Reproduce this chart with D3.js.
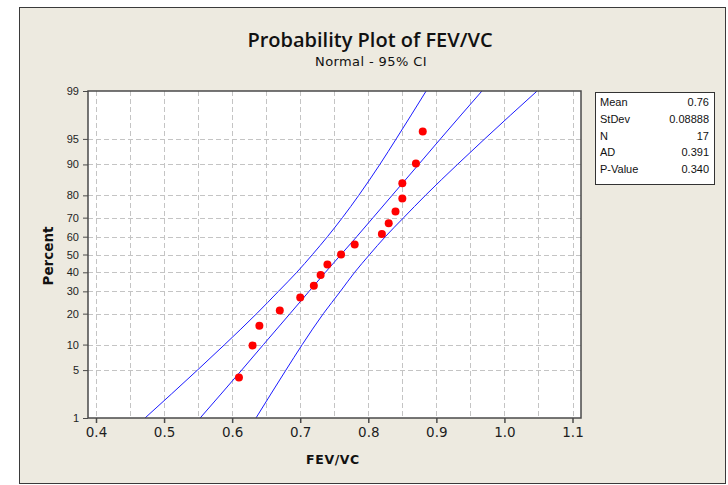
<!DOCTYPE html>
<html>
<head>
<meta charset="utf-8">
<script src="https://cdn.jsdelivr.net/npm/d3@7"></script>
<style>
  html, body { margin: 0; padding: 0; background: #ffffff; }
  svg { display: block; }
</style>
</head>
<body>
<svg id="chart" width="728" height="485"></svg>
<script>
// ---------------- DATA ----------------
const fevvc = [0.61, 0.63, 0.64, 0.67, 0.70, 0.72, 0.73, 0.74, 0.76, 0.78, 0.82, 0.83, 0.84, 0.85, 0.85, 0.87, 0.88];
const pointPercent = [4.0, 9.8, 15.5, 21.3, 27.0, 32.8, 38.5, 44.3, 50.0, 55.7, 61.5, 67.2, 73.0, 78.7, 84.5, 90.2, 96.0];

// fitted line and 95% CI bands, read at the percent levels
const bandPercent = [1, 5, 10, 20, 30, 40, 50, 60, 70, 80, 90, 95, 99];
const fitLine   = [0.553, 0.614, 0.646, 0.685, 0.713, 0.737, 0.760, 0.783, 0.807, 0.835, 0.874, 0.906, 0.967];
const lowerBand = [0.472, 0.549, 0.589, 0.636, 0.668, 0.695, 0.718, 0.740, 0.762, 0.786, 0.817, 0.841, 0.885];
const upperBand = [0.635, 0.679, 0.703, 0.734, 0.759, 0.780, 0.802, 0.825, 0.852, 0.884, 0.931, 0.971, 1.048];

const xTicks = [0.4, 0.5, 0.6, 0.7, 0.8, 0.9, 1.0, 1.1];
const xGrid  = [0.40, 0.45, 0.50, 0.55, 0.60, 0.65, 0.70, 0.75, 0.80, 0.85, 0.90, 0.95, 1.00, 1.05, 1.10];
const yTicks = [1, 5, 10, 20, 30, 40, 50, 60, 70, 80, 90, 95, 99];

const statLabels = ["Mean", "StDev", "N", "AD", "P-Value"];
const statValues = ["0.76", "0.08888", "17", "0.391", "0.340"];

// ---------------- HELPERS ----------------
// inverse standard normal CDF (Acklam)
function probit(p) {
  const a = [-3.969683028665376e+01, 2.209460984245205e+02, -2.759285104469687e+02, 1.383577518672690e+02, -3.066479806614716e+01, 2.506628277459239e+00];
  const b = [-5.447609879822406e+01, 1.615858368580409e+02, -1.556989798598866e+02, 6.680131188771972e+01, -1.328068155288572e+01];
  const c = [-7.784894002430293e-03, -3.223964580411365e-01, -2.400758277161838e+00, -2.549732539343734e+00, 4.374664141464968e+00, 2.938163982698783e+00];
  const d = [7.784695709041462e-03, 3.224671290700398e-01, 2.445134137142996e+00, 3.754408661907416e+00];
  const pl = 0.02425, ph = 1 - pl;
  let q, r;
  if (p < pl) {
    q = Math.sqrt(-2 * Math.log(p));
    return (((((c[0]*q+c[1])*q+c[2])*q+c[3])*q+c[4])*q+c[5]) / ((((d[0]*q+d[1])*q+d[2])*q+d[3])*q+1);
  } else if (p <= ph) {
    q = p - 0.5; r = q * q;
    return (((((a[0]*r+a[1])*r+a[2])*r+a[3])*r+a[4])*r+a[5])*q / (((((b[0]*r+b[1])*r+b[2])*r+b[3])*r+b[4])*r+1);
  } else {
    q = Math.sqrt(-2 * Math.log(1 - p));
    return -(((((c[0]*q+c[1])*q+c[2])*q+c[3])*q+c[4])*q+c[5]) / ((((d[0]*q+d[1])*q+d[2])*q+d[3])*q+1);
  }
}
const z = pct => probit(pct / 100);

// ---------------- LAYOUT ----------------
const svg = d3.select("#chart");
const plot = { left: 88, right: 581, top: 91, bottom: 418 };

// outer frame
svg.append("rect")
  .attr("x", 19.5).attr("y", 7.5).attr("width", 706).attr("height", 476)
  .attr("fill", "#EDEAE0").attr("stroke", "#3a3a3a").attr("stroke-width", 1);

const x = d3.scaleLinear().domain([0.4, 1.1]).range([96, 572.5]);
const y = d3.scaleLinear().domain([z(1), z(99)]).range([plot.bottom, plot.top]);

// plot background
svg.append("rect")
  .attr("x", plot.left).attr("y", plot.top)
  .attr("width", plot.right - plot.left).attr("height", plot.bottom - plot.top)
  .attr("fill", "#ffffff");

svg.append("clipPath").attr("id", "clip")
  .append("rect")
  .attr("x", plot.left).attr("y", plot.top)
  .attr("width", plot.right - plot.left).attr("height", plot.bottom - plot.top);

// gridlines
const grid = svg.append("g").attr("stroke", "#c4c4c4").attr("stroke-width", 1).attr("stroke-dasharray", "5,3");
grid.selectAll("line.v").data(xGrid).join("line")
  .attr("class", "v")
  .attr("x1", d => Math.round(x(d)) + 0.5).attr("x2", d => Math.round(x(d)) + 0.5)
  .attr("y1", plot.top).attr("y2", plot.bottom);
grid.selectAll("line.h").data(yTicks.filter(t => t > 1 && t < 99)).join("line")
  .attr("class", "h")
  .attr("y1", d => Math.round(y(z(d))) + 0.5).attr("y2", d => Math.round(y(z(d))) + 0.5)
  .attr("x1", plot.left).attr("x2", plot.right);

// fitted line and CI bands
const line = d3.line()
  .x(d => x(d[0]))
  .y(d => y(z(d[1])))
  .curve(d3.curveMonotoneY);

const lines = svg.append("g").attr("clip-path", "url(#clip)");
[lowerBand, fitLine, upperBand].forEach(arr => {
  lines.append("path")
    .datum(arr.map((v, i) => [v, bandPercent[i]]))
    .attr("d", line)
    .attr("fill", "none")
    .attr("stroke", "#1a1aff")
    .attr("stroke-width", 1);
});

// points
svg.append("g").selectAll("circle").data(fevvc).join("circle")
  .attr("cx", d => x(d))
  .attr("cy", (d, i) => y(z(pointPercent[i])))
  .attr("r", 4)
  .attr("fill", "#ff0000");

// plot frame
svg.append("rect")
  .attr("x", plot.left).attr("y", plot.top)
  .attr("width", plot.right - plot.left).attr("height", plot.bottom - plot.top)
  .attr("fill", "none").attr("stroke", "#4a4a4a").attr("stroke-width", 1.5);

// x axis
const xAxis = svg.append("g")
  .attr("transform", `translate(0,${plot.bottom})`)
  .call(d3.axisBottom(x).tickValues(xTicks).tickFormat(d3.format(".1f")).tickSize(5).tickSizeOuter(0));
xAxis.select(".domain").remove();
xAxis.selectAll(".tick line").attr("stroke", "#4a4a4a").attr("stroke-width", 1.5);
xAxis.selectAll(".tick text")
  .attr("y", 9)
  .attr("fill", "#1e1e1e")
  .style("font-family", "'DejaVu Sans', sans-serif")
  .style("font-size", "13.5px");

// y axis
const yAxis = svg.append("g")
  .attr("transform", `translate(${plot.left},0)`)
  .call(d3.axisLeft(y).tickValues(yTicks.map(z)).tickFormat((d, i) => yTicks[i]).tickSize(5).tickSizeOuter(0));
yAxis.select(".domain").remove();
yAxis.selectAll(".tick line").attr("stroke", "#4a4a4a").attr("stroke-width", 1);
yAxis.selectAll(".tick text")
  .attr("x", -9)
  .attr("fill", "#1e1e1e")
  .style("font-family", "'Liberation Sans', Arial, sans-serif")
  .style("font-size", "11px");

// titles
svg.append("text")
  .attr("x", 370).attr("y", 47)
  .attr("text-anchor", "middle")
  .style("font-family", "'Open Sans', 'DejaVu Sans', sans-serif")
  .style("font-weight", "600")
  .style("font-size", "20px")
  .attr("fill", "#111")
  .text("Probability Plot of FEV/VC");
svg.append("text")
  .attr("x", 371).attr("y", 66)
  .attr("text-anchor", "middle")
  .style("font-family", "'DejaVu Sans', sans-serif")
  .style("font-size", "13px")
  .style("letter-spacing", "0.4px")
  .attr("fill", "#111")
  .text("Normal - 95% CI");

svg.append("text")
  .attr("x", 333).attr("y", 464)
  .attr("text-anchor", "middle")
  .style("font-family", "'DejaVu Sans', sans-serif")
  .style("font-weight", "bold")
  .style("font-size", "12.5px")
  .style("letter-spacing", "0.6px")
  .attr("fill", "#111")
  .text("FEV/VC");

svg.append("text")
  .attr("transform", "translate(53,256) rotate(-90)")
  .attr("text-anchor", "middle")
  .style("font-family", "'DejaVu Sans', sans-serif")
  .style("font-weight", "bold")
  .style("font-size", "13.5px")
  .attr("fill", "#111")
  .text("Percent");

// stats box
const box = svg.append("g");
box.append("rect")
  .attr("x", 595.5).attr("y", 92.5).attr("width", 119).attr("height", 92)
  .attr("fill", "#ffffff").attr("stroke", "#333").attr("stroke-width", 1);
box.selectAll("text.lab").data(statLabels).join("text")
  .attr("class", "lab")
  .attr("x", 600).attr("y", (d, i) => 106 + i * 16.8)
  .style("font-family", "'Liberation Sans', Arial, sans-serif")
  .style("font-size", "11px")
  .attr("fill", "#111")
  .text(d => d);
box.selectAll("text.val").data(statValues).join("text")
  .attr("class", "val")
  .attr("x", 709).attr("y", (d, i) => 106 + i * 16.8)
  .attr("text-anchor", "end")
  .style("font-family", "'Liberation Sans', Arial, sans-serif")
  .style("font-size", "11px")
  .attr("fill", "#111")
  .text(d => d);
</script>
</body>
</html>
